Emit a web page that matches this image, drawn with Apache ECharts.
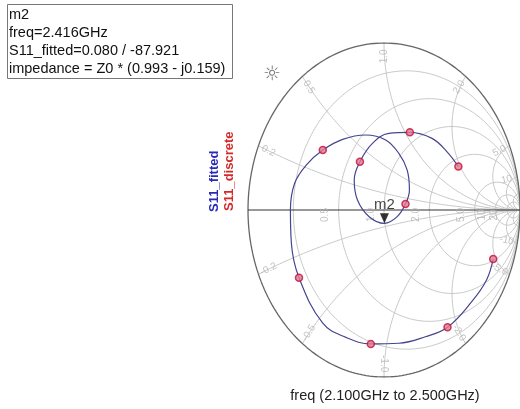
<!DOCTYPE html>
<html>
<head>
<meta charset="utf-8">
<script src="https://cdn.jsdelivr.net/npm/echarts@6/dist/echarts.min.js"></script>
<style>
  html, body { margin: 0; padding: 0; background: #fff; }
  #chart { width: 520px; height: 409px; }
</style>
</head>
<body>
<div id="chart"></div>
<script>
// reflection coefficient of the fitted trace (2.1 -> 2.5 GHz)
const fittedRe = [0.803, 0.754, 0.645, 0.467, 0.304, 0.109, -0.097, -0.28, -0.45, -0.625, -0.681, -0.688, -0.657, -0.572, -0.45, -0.304, -0.134, 0.012, 0.109, 0.170, 0.187, 0.158, 0.097, 0.003, -0.109, -0.195, -0.219, -0.177, -0.085, 0.036, 0.190, 0.353, 0.462, 0.547];
const fittedIm = [-0.293, -0.419, -0.549, -0.702, -0.759, -0.798, -0.802, -0.763, -0.678, -0.405, -0.199, 0, 0.160, 0.269, 0.359, 0.423, 0.449, 0.419, 0.339, 0.240, 0.120, 0.036, -0.040, -0.080, -0.040, 0.060, 0.180, 0.289, 0.399, 0.459, 0.465, 0.429, 0.350, 0.260];
// discrete measured points
const discreteRe = [0.803, 0.467, -0.097, -0.625, -0.45, 0.158, -0.177, 0.190, 0.547];
const discreteIm = [-0.293, -0.702, -0.802, -0.405, 0.359, 0.036, 0.289, 0.465, 0.260];
// marker
const markerName = 'm2';
const markerRe = 0.003;
const markerIm = -0.080;
// smith grid
const rCircles = [0.2, 0.5, 1, 2, 5, 10, 20];
const xArcs = [0.2, 0.5, 1, 2, 5, 10, 20];
const rLabelValues = [0.5, 1, 2, 5, 10, 20];
const rLabels = ['0.5', '1.0', '2.0', '5.0', '10', '20'];
const xLabelValues = [0.2, 0.5, 1, 2, 5, 10, -0.2, -0.5, -1, -2, -5, -10];
const xLabels = ['0.2', '0.5', '1.0', '2.0', '5.0', '10', '-0.2', '-0.5', '-1.0', '-2.0', '-5.0', '-10'];

const FONT = 'Liberation Sans, Arial, sans-serif';
const GRID_W = 276, GRID_H = 334;

function gamma(r, x) {
  const d = (r + 1) * (r + 1) + x * x;
  return [(r * r - 1 + x * x) / d, 2 * x / d];
}

function rCircle(r) {
  const c = r / (1 + r), R = 1 / (1 + r), pts = [];
  for (let i = 0; i <= 240; i++) {
    const a = i / 240 * Math.PI * 2;
    pts.push([c + R * Math.cos(a), R * Math.sin(a)]);
  }
  return pts;
}

function xArc(x) {
  const pts = [];
  for (let i = 0; i < 200; i++) {
    const p = i / 200 * Math.PI / 2;
    pts.push(gamma(Math.tan(p), x));
  }
  pts.push([1, 0]);
  return pts;
}

function gridLine(data, color, width) {
  return {
    type: 'line', data: data, showSymbol: false, silent: true, animation: false,
    lineStyle: { color: color, width: width }, z: 1
  };
}

const series = [];
rCircles.forEach(r => series.push(gridLine(rCircle(r), '#c8c8c8', 1)));
xArcs.forEach(x => {
  series.push(gridLine(xArc(x), '#c8c8c8', 1));
  series.push(gridLine(xArc(-x), '#c8c8c8', 1));
});
series.push(gridLine(rCircle(0), '#666', 1.3));
series.push(gridLine([[-1, 0], [1, 0]], '#333', 1.2));

// grid labels
const labelData = [];
rLabelValues.forEach((r, i) => {
  labelData.push({
    value: [(r - 1) / (r + 1), 0],
    label: { formatter: rLabels[i], rotate: 90, offset: [-5, -13] }
  });
});
xLabelValues.forEach((x, i) => {
  const g = gamma(0, x);
  let ang = Math.atan2(g[1] * GRID_H, g[0] * GRID_W) * 180 / Math.PI;
  if (ang > 90) ang -= 180;
  if (ang < -90) ang += 180;
  labelData.push({
    value: [g[0] * 0.92, g[1] * 0.92],
    label: { formatter: xLabels[i], rotate: ang }
  });
});
series.push({
  type: 'scatter', data: labelData, symbolSize: 0, silent: true, animation: false, z: 2,
  label: { show: true, position: 'inside', color: '#b4b4b4', fontSize: 10, fontFamily: FONT }
});

series.push({
  name: 'S11_fitted', type: 'line', smooth: 0.4, showSymbol: false, animation: false, z: 5,
  data: fittedRe.map((v, i) => [v, fittedIm[i]]),
  lineStyle: { color: '#45458f', width: 1.2 }
});
series.push({
  name: 'S11_discrete', type: 'scatter', symbol: 'circle', symbolSize: 7, animation: false, z: 6,
  data: discreteRe.map((v, i) => [v, discreteIm[i]]),
  itemStyle: { color: '#e07a93', borderColor: '#c0103c', borderWidth: 1.5 }
});
series.push({
  type: 'scatter', symbol: 'triangle', symbolRotate: 180, symbolSize: [9, 10], symbolOffset: [0, -5],
  animation: false, z: 7, data: [[markerRe, markerIm]],
  itemStyle: { color: '#000' },
  label: { show: true, formatter: markerName, position: 'top', distance: 1, color: '#111', fontSize: 15, fontFamily: FONT }
});

const chart = echarts.init(document.getElementById('chart'));
chart.setOption({
  backgroundColor: '#fff',
  animation: false,
  grid: { left: 248, top: 43, width: GRID_W, height: GRID_H },
  xAxis: { type: 'value', min: -1, max: 1, show: false },
  yAxis: { type: 'value', min: -1, max: 1, show: false },
  series: series,
  graphic: [
    { type: 'rect', shape: { x: 7.5, y: 4.5, width: 225, height: 74 }, style: { fill: '#fff', stroke: '#777', lineWidth: 1 } },
    { type: 'text', x: 9, y: 15, style: { text: 'm2', font: '14.5px ' + FONT, fill: '#111', verticalAlign: 'middle' } },
    { type: 'text', x: 9, y: 33, style: { text: 'freq=2.416GHz', font: '14.5px ' + FONT, fill: '#111', verticalAlign: 'middle' } },
    { type: 'text', x: 9, y: 51, style: { text: 'S11_fitted=0.080 / -87.921', font: '14.5px ' + FONT, fill: '#111', verticalAlign: 'middle' } },
    { type: 'text', x: 9, y: 69, style: { text: 'impedance = Z0 * (0.993 - j0.159)', font: '14.5px ' + FONT, fill: '#111', verticalAlign: 'middle' } },
    { type: 'text', x: 272, y: 75, style: { text: '☼', font: '20px DejaVu Sans', fill: '#777', align: 'center', verticalAlign: 'middle' } },
    { type: 'text', x: 214, y: 212, rotation: Math.PI / 2, style: { text: 'S11_fitted', font: 'bold 13px ' + FONT, fill: '#2a2ab8', align: 'left', verticalAlign: 'middle' } },
    { type: 'text', x: 229, y: 211, rotation: Math.PI / 2, style: { text: 'S11_discrete', font: 'bold 13px ' + FONT, fill: '#d42a2a', align: 'left', verticalAlign: 'middle' } },
    { type: 'text', x: 385, y: 396, style: { text: 'freq (2.100GHz to 2.500GHz)', font: '14.5px ' + FONT, fill: '#222', align: 'center', verticalAlign: 'middle' } }
  ]
});
</script>
</body>
</html>
